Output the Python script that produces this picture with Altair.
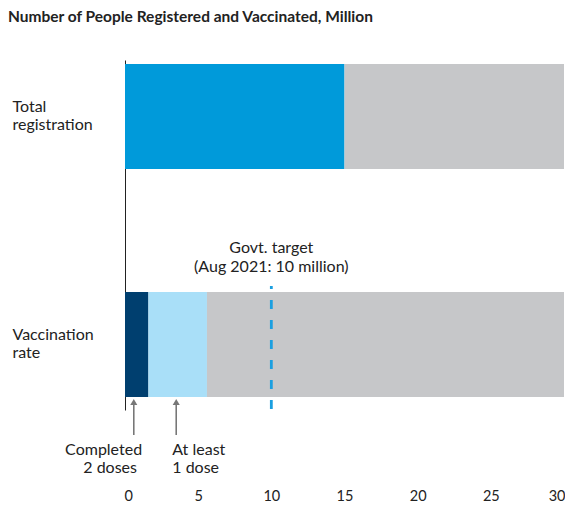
import altair as alt
import pandas as pd

FONT = "Lato"
TEXT = "#222222"

title_text = "Number of People Registered and Vaccinated, Million"
categories = ["Total registration", "Vaccination rate"]

# bar segments (cumulative start/end, million people)
seg_category = ["Total registration", "Total registration",
                "Vaccination rate", "Vaccination rate", "Vaccination rate"]
seg_name = ["Registered", "Remaining", "Completed 2 doses", "At least 1 dose", "Remaining"]
seg_start = [0, 15.0, 0, 1.6, 5.6]
seg_end = [15.0, 30, 1.6, 5.6, 30]

color_domain = ["Registered", "Completed 2 doses", "At least 1 dose", "Remaining"]
color_range = ["#009ADA", "#003F6F", "#A9DFF8", "#C6C7C9"]

target_value = 10
target_label = "Govt. target\n(Aug 2021: 10 million)"

arrow_x = [0.6, 3.5]

x_ticks = [0, 5, 10, 15, 20, 25, 30]

segments = pd.DataFrame({
    "category": seg_category, "segment": seg_name,
    "start": seg_start, "end": seg_end,
})
target_df = pd.DataFrame({"value": [target_value], "label": [target_label]})
arrows = pd.DataFrame({"x": arrow_x})

x_scale = alt.Scale(domain=[0, 30], nice=False, zero=True)
y_scale = alt.Scale(domain=categories, paddingInner=0.5395, paddingOuter=0.0373, align=0.235)

x_axis = alt.Axis(values=x_ticks, title=None, domain=False, ticks=False, tickSize=0,
                  grid=False, labelPadding=79, labelFontSize=14.5,
                  labelFlush=True, labelFlushOffset=1,
                  labelColor=TEXT, labelFont=FONT)

bars = alt.Chart(segments).mark_bar(cornerRadius=0).encode(
    x=alt.X("start:Q", scale=x_scale, axis=x_axis),
    x2="end:Q",
    y=alt.Y("category:N", scale=y_scale, sort=categories,
            axis=alt.Axis(title=None, ticks=False, tickSize=0, domain=True, domainColor=TEXT,
                          domainWidth=1, labelAlign="left", labelPadding=113,
                          labelOffset=-9, grid=False,
                          labelFontSize=16, labelColor=TEXT, labelFont=FONT,
                          labelLineHeight=18,
                          labelExpr="datum.label == 'Total registration' ? ['Total', 'registration'] : ['Vaccination', 'rate']")),
    color=alt.Color("segment:N", scale=alt.Scale(domain=color_domain, range=color_range), legend=None),
)

target_line = alt.Chart(target_df).mark_rule(
    color="#1A9FE0", strokeWidth=2.8, strokeDash=[9, 11], strokeDashOffset=6
).encode(
    x=alt.X("value:Q", scale=x_scale, axis=x_axis),
    y=alt.value(226), y2=alt.value(352),
)

target_text = alt.Chart(target_df).mark_text(
    font=FONT, fontSize=16, color=TEXT, align="center", baseline="alphabetic",
    lineBreak="\n", lineHeight=19,
).encode(
    x=alt.X("value:Q", scale=x_scale, axis=x_axis),
    y=alt.value(193),
    text="label:N",
)

arrow_shaft = alt.Chart(arrows).mark_rule(color="#777777", strokeWidth=1.6).encode(
    x=alt.X("x:Q", scale=x_scale, axis=x_axis),
    y=alt.value(344), y2=alt.value(375),
)
arrow_head = alt.Chart(arrows).mark_point(
    shape="triangle-up", filled=True, color="#777777", size=50, opacity=1
).encode(
    x=alt.X("x:Q", scale=x_scale, axis=x_axis),
    y=alt.value(342),
)

ann_lines = [
    ("Completed", 1.17, 394.5, "right"),
    ("2 doses", 0.82, 412.5, "right"),
    ("At least", 3.23, 394.5, "left"),
    ("1 dose", 3.23, 412.5, "left"),
]
ann_layers = []
for txt, xv, yv, al in ann_lines:
    ann_layers.append(
        alt.Chart(pd.DataFrame({"x": [xv], "t": [txt]})).mark_text(
            font=FONT, fontSize=16, color=TEXT, align=al, baseline="alphabetic"
        ).encode(x=alt.X("x:Q", scale=x_scale, axis=x_axis), y=alt.value(yv), text="t:N")
    )

chart = alt.layer(bars, target_line, target_text, arrow_shaft, arrow_head, *ann_layers).properties(
    width=439, height=350,
    autosize=alt.AutoSizeParams(type="none"),
    padding={"left": 117, "top": 52, "right": 1, "bottom": 93},
    view=alt.ViewBackground(stroke="transparent", strokeWidth=0),
    title=alt.TitleParams(title_text, anchor="start", dx=-117, offset=35, font=FONT,
                          fontSize=15.5, fontWeight="bold", color=TEXT, frame="group"),
).configure(
    background="white", style={"cell": {"stroke": "transparent", "strokeWidth": 0}}
).configure_view(strokeWidth=0, stroke="transparent")

chart.save("out.html", embed_options={"renderer": "svg", "actions": False})
